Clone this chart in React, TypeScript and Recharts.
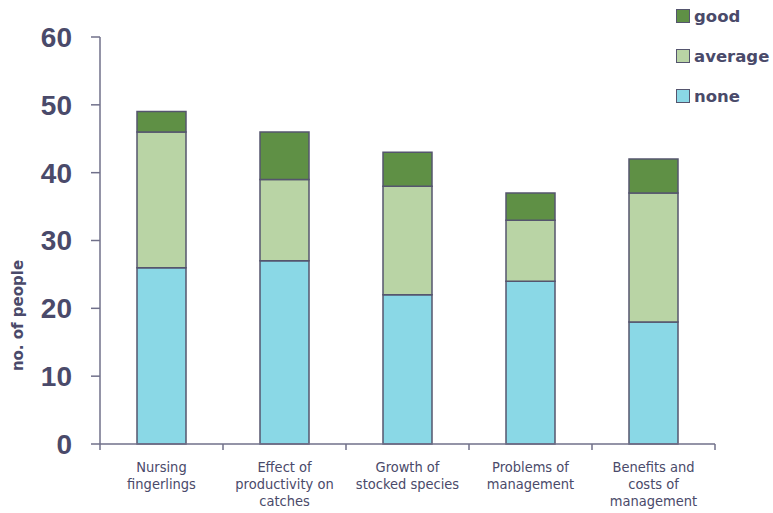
import React from 'react';
import { BarChart, Bar, XAxis, YAxis, Label } from 'recharts';

const categories = [
  'Nursing\nfingerlings',
  'Effect of\nproductivity on\ncatches',
  'Growth of\nstocked species',
  'Problems of\nmanagement',
  'Benefits and\ncosts of\nmanagement',
];
const noneValues = [26, 27, 22, 24, 18];
const averageValues = [20, 12, 16, 9, 19];
const goodValues = [3, 7, 5, 4, 5];
const yTicks = [0, 10, 20, 30, 40, 50, 60];

const series = [
  { key: 'none', name: 'none', color: '#8AD8E6' },
  { key: 'average', name: 'average', color: '#B9D4A5' },
  { key: 'good', name: 'good', color: '#5F9045' },
];

const data = categories.map((c, i) => ({
  category: c,
  none: noneValues[i],
  average: averageValues[i],
  good: goodValues[i],
}));

const TEXT = '#4a4a6a';
const AXIS = '#70708a';
const STROKE = '#55556e';

const CatTick = (props: any) => {
  const { x, y, payload, index, visibleTicksCount } = props;
  const half = payload && typeof payload.offset === 'number' ? payload.offset : 0;
  const lines = String(payload.value).split('\n');
  const isLast = index === (visibleTicksCount ?? categories.length) - 1;
  return (
    <g>
      {half > 0 && (
        <line x1={x - half} x2={x - half} y1={y} y2={y + 6} stroke={AXIS} strokeWidth={1.5} />
      )}
      {half > 0 && isLast && (
        <line x1={x + half} x2={x + half} y1={y} y2={y + 6} stroke={AXIS} strokeWidth={1.5} />
      )}
      {lines.map((l: string, i: number) => (
        <text
          key={i}
          x={x}
          y={y + 28 + i * 17}
          textAnchor="middle"
          fill={TEXT}
          fontFamily="'DejaVu Sans Condensed', 'DejaVu Sans', sans-serif"
          fontSize={14.5}
        >
          {l}
        </text>
      ))}
    </g>
  );
};

const YLabel = (props: any) => {
  const { viewBox } = props;
  const cx = 18;
  const cy = viewBox.y + viewBox.height / 2 + 75;
  return (
    <text
      x={cx}
      y={cy}
      transform={`rotate(-90, ${cx}, ${cy})`}
      textAnchor="middle"
      dominantBaseline="central"
      fill={TEXT}
      fontFamily="'DejaVu Sans', sans-serif"
      fontWeight="bold"
      fontSize={15}
    >
      no. of people
    </text>
  );
};

export default function App() {
  const legendItems = [...series].reverse();
  return (
    <div style={{ position: 'absolute', left: 0, top: 0, width: 773, height: 513, background: '#fff' }}>
      <BarChart
        width={773}
        height={513}
        data={data}
        margin={{ top: 37, right: 58, bottom: 0, left: 0 }}
        barSize={49}
      >
        <XAxis
          dataKey="category"
          interval={0}
          height={69}
          tick={<CatTick />}
          tickLine={false}
          tickSize={0}
          tickMargin={0}
          axisLine={{ stroke: AXIS, strokeWidth: 1.5 }}
        />
        <YAxis
          width={100}
          domain={[0, 60]}
          ticks={yTicks}
          interval={0}
          tickSize={9}
          tickMargin={19}
          axisLine={{ stroke: AXIS, strokeWidth: 1.5 }}
          tickLine={{ stroke: AXIS, strokeWidth: 1.5 }}
          tick={{
            fill: TEXT,
            fontSize: 28,
            fontWeight: 'bold',
            fontFamily: "'Liberation Sans', Arial, sans-serif",
          }}
        >
          <Label content={<YLabel />} />
        </YAxis>
        {series.map((s) => (
          <Bar
            key={s.key}
            dataKey={s.key}
            name={s.name}
            stackId="a"
            fill={s.color}
            stroke={STROKE}
            strokeWidth={1.5}
            isAnimationActive={false}
          />
        ))}
      </BarChart>
      <div style={{ position: 'absolute', left: 676, top: 5 }}>
        {legendItems.map((s, i) => (
          <div
            key={s.key}
            style={{
              position: 'absolute',
              left: 0,
              top: i * 40,
              display: 'flex',
              alignItems: 'center',
              whiteSpace: 'nowrap',
              height: 22,
            }}
          >
            <div
              style={{
                width: 12,
                height: 12,
                background: s.color,
                border: `1.5px solid ${STROKE}`,
                marginRight: 4,
              }}
            />
            <span
              style={{
                color: TEXT,
                fontFamily: "'DejaVu Sans', sans-serif",
                fontWeight: 'bold',
                fontSize: 16.5,
              }}
            >
              {s.name}
            </span>
          </div>
        ))}
      </div>
    </div>
  );
}
